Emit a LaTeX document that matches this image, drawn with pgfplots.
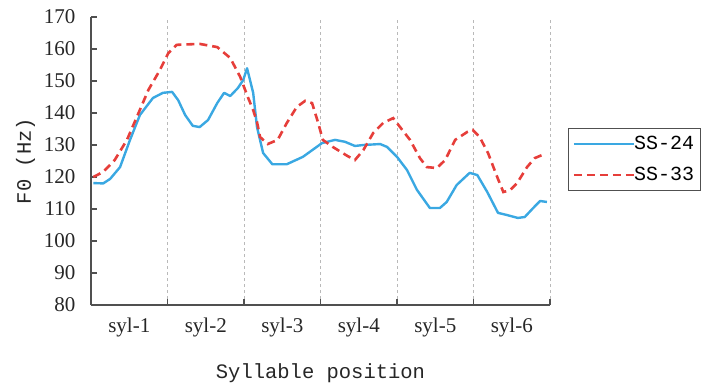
\documentclass[border=0pt]{standalone}
\usepackage{pgfplots}
\pgfplotsset{compat=1.18}
\usepackage{fontspec}
\setmainfont{Liberation Serif}
\newfontfamily\labelfont{Liberation Mono}
\definecolor{sblue}{RGB}{58,168,226}
\definecolor{sred}{RGB}{230,62,58}
\definecolor{axgray}{RGB}{80,80,80}

% F0 contours over six syllables (x in syllable units)
\pgfplotstableread{
x y
0.03 118.1
0.16 118.0
0.25 119.4
0.38 123.1
0.51 131.6
0.64 139.4
0.81 144.7
0.94 146.3
1.06 146.6
1.14 144.0
1.23 139.4
1.33 136.0
1.42 135.6
1.53 137.8
1.65 143.1
1.74 146.3
1.82 145.3
1.92 147.8
1.99 150.3
2.04 154.0
2.12 146.3
2.17 135.6
2.25 127.5
2.37 124.0
2.56 124.0
2.77 126.3
3.02 130.6
3.19 131.6
3.32 131.0
3.45 129.7
3.56 130.0
3.78 130.3
3.87 129.4
4.00 126.3
4.13 122.2
4.26 116.0
4.43 110.3
4.56 110.3
4.65 112.2
4.78 117.5
4.95 121.3
5.05 120.6
5.18 115.3
5.32 108.8
5.44 108.1
5.58 107.2
5.67 107.5
5.78 110.3
5.87 112.5
5.96 112.2
}\ssA

\pgfplotstableread{
x y
0.03 120.0
0.16 121.6
0.31 125.3
0.47 131.6
0.60 138.8
0.75 147.2
0.90 153.4
1.01 158.7
1.12 161.3
1.42 161.6
1.65 160.6
1.82 157.2
1.95 151.3
2.05 145.0
2.12 140.9
2.17 137.2
2.21 132.5
2.31 130.3
2.44 131.6
2.56 136.9
2.69 141.9
2.80 143.8
2.89 143.1
2.97 136.9
3.03 131.6
3.16 129.4
3.35 126.6
3.45 125.3
3.56 128.4
3.69 133.8
3.82 136.9
3.95 138.4
4.04 135.6
4.17 131.6
4.30 125.9
4.39 123.1
4.52 122.8
4.63 125.3
4.76 131.6
4.92 134.1
4.99 134.7
5.08 132.5
5.19 127.5
5.31 120.0
5.39 115.3
5.48 115.9
5.57 118.1
5.70 123.1
5.80 125.9
5.90 126.9
}\ssB

\begin{document}
\begin{tikzpicture}[x=1pt,y=1pt]
\useasboundingbox (0,0) rectangle (701,383);
\begin{axis}[
  at={(91pt,78pt)}, anchor=south west,
  scale only axis, width=459pt, height=288pt,
  xmin=0, xmax=6, ymin=80, ymax=170,
  axis lines*=left,
  axis line style={axgray, line width=1.6pt},
  tick align=inside,
  major tick length=6pt,
  tick style={axgray, line width=1.4pt},
  xtick={1,2,3,4,5,6},
  xticklabels={},
  xmajorgrids,
  major grid style={dashed, gray!55, line width=0.8pt},
  extra x ticks={0.5,1.5,2.5,3.5,4.5,5.5},
  extra x tick labels={syl-1,syl-2,syl-3,syl-4,syl-5,syl-6},
  extra x tick style={major tick length=0pt, grid=none},
  ytick={80,90,...,170},
  /pgf/number format/assume math mode=true,
  ticklabel style={font=\fontsize{21}{24}\selectfont, text=black!85},
  yticklabel style={xshift=-12pt},
  xticklabel style={yshift=-9pt},
  xlabel={\labelfont Syllable position},
  ylabel={\labelfont F0 (Hz)},
  label style={font=\fontsize{20.5}{24}\selectfont, text=black!85},
  xlabel style={yshift=-20pt},
  ylabel style={yshift=2pt},
  legend style={at={(1.039,0.615)}, anchor=north west,
    draw=axgray, line width=1.2pt, inner xsep=4pt, inner ysep=6pt,
    font=\labelfont\fontsize{20}{24}\selectfont,
    cells={anchor=west}, row sep=12pt},
  legend cell align=left,
  legend image code/.code={\draw[#1] (-2pt,0pt) -- (58pt,0pt);},
]
\addplot[sblue, line width=2.4pt, line join=round] table[x=x,y=y]{\ssA};
\addlegendentry{\hspace{-3pt}SS-24}
\addplot[sred, line width=2.6pt, dash pattern=on 8pt off 5pt] table[x=x,y=y]{\ssB};
\addlegendentry{\hspace{-3pt}SS-33}
\end{axis}
\end{tikzpicture}
\end{document}
